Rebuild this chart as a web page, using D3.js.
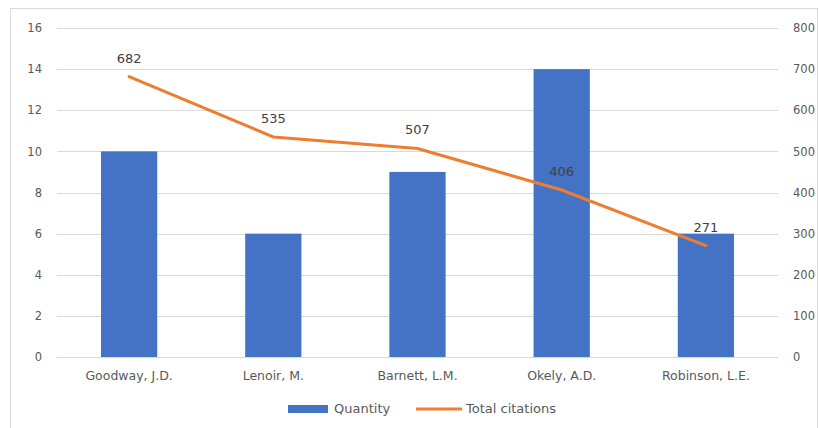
<!DOCTYPE html>
<html><head><meta charset="utf-8">
<script src="https://cdn.jsdelivr.net/npm/d3@7"></script>
<style>body{margin:0;background:#fff;}svg{display:block;font-family:"DejaVu Sans",sans-serif;}</style>
</head><body><svg id="c" width="819" height="428"></svg>
<script>
const categories = ["Goodway, J.D.", "Lenoir, M.", "Barnett, L.M.", "Okely, A.D.", "Robinson, L.E."];
const quantity = [10, 6, 9, 14, 6];
const citations = [682, 535, 507, 406, 271];
const leftTicks = [0, 2, 4, 6, 8, 10, 12, 14, 16];
const rightTicks = [0, 100, 200, 300, 400, 500, 600, 700, 800];

const svg = d3.select("#c");
const m = {l: 57, r: 41, t: 28, b: 71};
const W = 819, H = 428;
const F = "DejaVu Sans";
svg.append("rect").attr("x", 10.5).attr("y", 8.5).attr("width", 807).attr("height", 425)
  .attr("fill", "#fff").attr("stroke", "#d9d9d9");

const x = d3.scaleBand().domain(categories).range([m.l, W - m.r]).paddingInner(0.61).paddingOuter(0.305);
const yL = d3.scaleLinear().domain([0, 16]).range([H - m.b, m.t]);
const yR = d3.scaleLinear().domain([0, 800]).range([H - m.b, m.t]);
const txt = "#595959";

// gridlines
svg.append("g").selectAll("line").data(leftTicks).join("line")
  .attr("x1", m.l).attr("x2", W - m.r)
  .attr("y1", d => Math.round(yL(d)) + 0.5).attr("y2", d => Math.round(yL(d)) + 0.5)
  .attr("stroke", "#d9d9d9").attr("stroke-width", 1);

// left axis
const ga = svg.append("g").attr("transform", `translate(${m.l},0)`)
  .call(d3.axisLeft(yL).tickValues(leftTicks).tickSize(0).tickPadding(15));
ga.select(".domain").remove();
ga.selectAll("text").attr("fill", txt).style("font-size", "11.5px").style("font-family", F);

const gr = svg.append("g").attr("transform", `translate(${W - m.r},0)`)
  .call(d3.axisRight(yR).tickValues(rightTicks).tickSize(0).tickPadding(15));
gr.select(".domain").remove();
gr.selectAll("text").attr("fill", txt).style("font-size", "11.5px").style("font-family", F);

// bars
svg.append("g").selectAll("rect").data(quantity).join("rect")
  .attr("x", (d, i) => x(categories[i])).attr("width", x.bandwidth())
  .attr("y", d => yL(d)).attr("height", d => yL(0) - yL(d))
  .attr("fill", "#4472C4");

// x axis labels
const gx = svg.append("g").attr("transform", `translate(0,${H - m.b})`)
  .call(d3.axisBottom(x).tickSize(0).tickPadding(14));
gx.select(".domain").remove();
gx.selectAll("text").attr("fill", txt).style("font-size", "12.5px").style("font-family", F);

// line
const line = d3.line().x((d, i) => x(categories[i]) + x.bandwidth() / 2).y(d => yR(d));
svg.append("path").datum(citations).attr("d", line)
  .attr("fill", "none").attr("stroke", "#ED7D31").attr("stroke-width", 3).attr("stroke-linecap", "round");

svg.append("g").selectAll("text").data(citations).join("text")
  .attr("x", (d, i) => x(categories[i]) + x.bandwidth() / 2)
  .attr("y", d => yR(d) - 14)
  .attr("text-anchor", "middle").attr("fill", "#404040")
  .style("font-size", "13px").style("font-family", F).text(d => d);

// legend
const lg = svg.append("g").attr("transform", "translate(0,409)");
lg.append("rect").attr("x", 288).attr("y", -4).attr("width", 40).attr("height", 8).attr("fill", "#4472C4");
lg.append("text").attr("x", 334).attr("y", 4).attr("fill", txt).style("font-size", "13px").style("font-family", F).text("Quantity");
lg.append("line").attr("x1", 416).attr("x2", 462).attr("y1", 0).attr("y2", 0)
  .attr("stroke", "#ED7D31").attr("stroke-width", 3);
lg.append("text").attr("x", 466).attr("y", 4).attr("fill", txt).style("font-size", "13px").style("font-family", F).text("Total citations");
</script></body></html>
